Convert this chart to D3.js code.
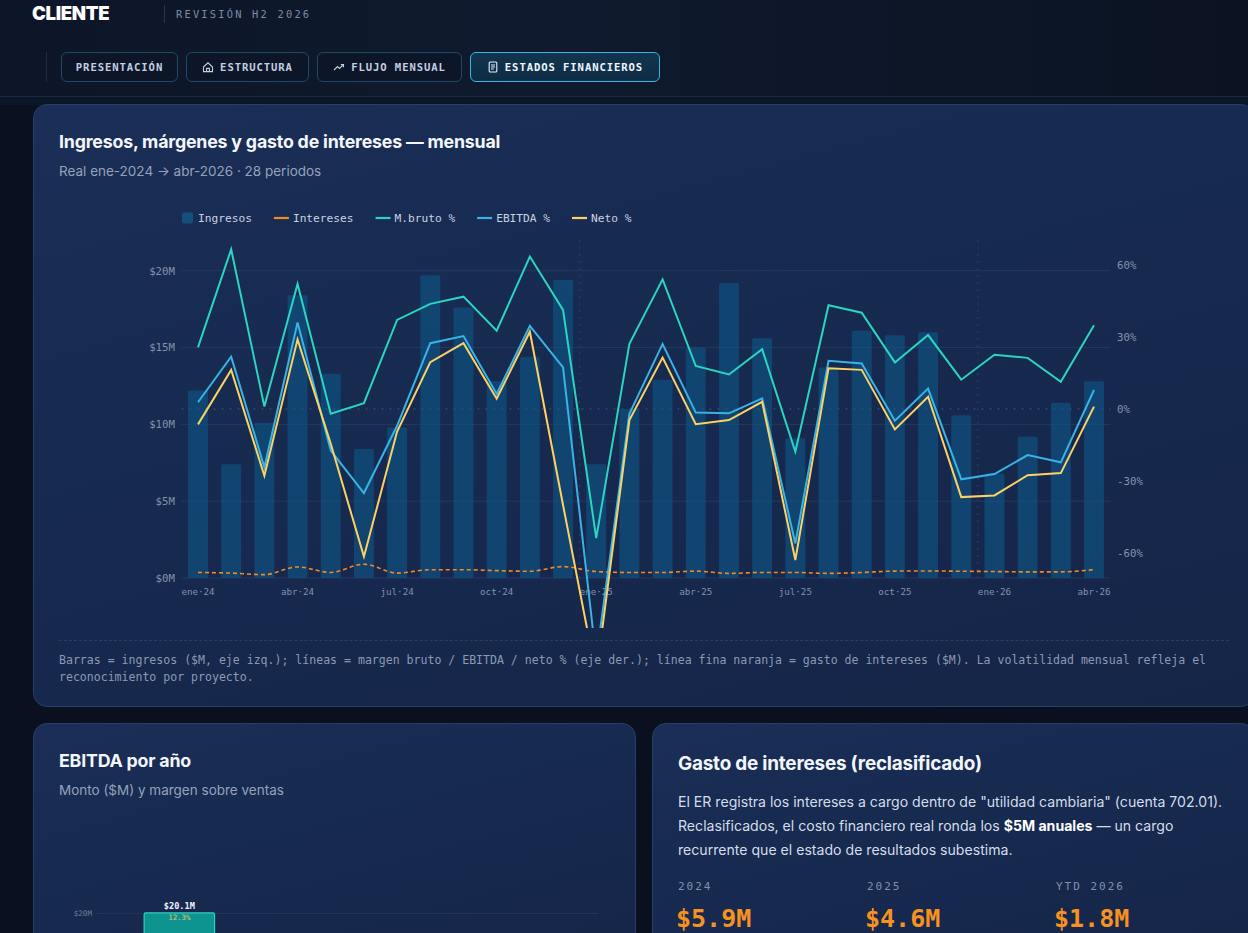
<!DOCTYPE html>
<html lang="es">
<head>
<meta charset="utf-8">
<script src="https://cdn.jsdelivr.net/npm/d3@7"></script>
<style>
html,body{margin:0;padding:0;}
body{width:1248px;height:933px;overflow:hidden;background:#0a101f;position:relative;font-family:Inter,"Noto Sans",sans-serif;color:#eef2fb;}
.abs{position:absolute;white-space:nowrap;}
.mono{font-family:"DejaVu Sans Mono","Liberation Mono",monospace;}
.header{position:absolute;left:0;top:0;width:1248px;height:96px;background:linear-gradient(90deg,#0d1628 0%,#101a2e 45%,#0b1322 100%);border-bottom:1px solid #1b2a44;}
.strip{position:absolute;left:0;top:97px;width:1248px;height:8px;background:#0b1626;}
.card{position:absolute;border:1px solid #27406a;border-radius:14px;background:linear-gradient(165deg,#1a2e57 0%,#172a50 40%,#152548 100%);box-sizing:border-box;}
.tab{position:absolute;top:52px;height:30px;box-sizing:border-box;border:1px solid #1e4a68;border-radius:6px;background:#0c1628;
  font-family:"DejaVu Sans Mono","Liberation Mono",monospace;font-size:10.6px;letter-spacing:0.9px;color:#c3cee0;font-weight:bold;
  display:flex;align-items:center;justify-content:center;gap:6px;}
.tab.on{border-color:#3ab4e0;background:linear-gradient(180deg,#12344f,#0f2c46);color:#eef6ff;}
.tab svg{width:12px;height:12px;}
.title{font-weight:700;font-size:17.8px;line-height:18px;color:#f3f6fc;letter-spacing:-0.2px;}
.sub{font-size:13.5px;line-height:14px;color:#95a2bc;}
</style>
</head>
<body>
<div class="header"></div>
<div class="strip"></div>

<div class="abs" style="left:32px;top:4px;font-size:18.5px;line-height:18px;font-weight:900;letter-spacing:-0.3px;color:#ffffff;">CLIENTE</div>
<div class="abs" style="left:164px;top:5px;width:1px;height:18px;background:#2a3650;"></div>
<div class="abs mono" style="left:176px;top:8px;font-size:10.4px;line-height:12px;letter-spacing:2.2px;color:#7f8ba3;">REVISIÓN H2 2026</div>

<div class="abs" style="left:46px;top:52px;width:1px;height:30px;background:#1f2c44;"></div>
<div class="tab" style="left:61px;width:117px;">PRESENTACIÓN</div>
<div class="tab" style="left:186px;width:123px;"><svg viewBox="0 0 12 12" fill="none" stroke="#c3cee0" stroke-width="1.1"><path d="M1.5 6 L6 1.8 L10.5 6 V10.6 H1.5 Z"/><path d="M4.6 10.6 V7.4 H7.4 V10.6"/></svg>ESTRUCTURA</div>
<div class="tab" style="left:317px;width:145px;"><svg viewBox="0 0 12 12" fill="none" stroke="#c3cee0" stroke-width="1.1"><path d="M1 9 L4.5 5.5 L6.5 7.5 L10.5 3.5"/><path d="M7.8 3.5 H10.5 V6.2"/></svg>FLUJO MENSUAL</div>
<div class="tab on" style="left:470px;width:190px;"><svg viewBox="0 0 12 12" fill="none" stroke="#e6f0ff" stroke-width="1.1"><rect x="2.2" y="1" width="7.6" height="10" rx="1"/><path d="M4 4 H8 M4 6 H8 M4 8 H6.8"/></svg>ESTADOS FINANCIEROS</div>

<!-- main card -->
<div class="card" style="left:33px;top:104px;width:1222px;height:603px;"></div>
<div class="abs title" style="left:59px;top:133px;">Ingresos, márgenes y gasto de intereses — mensual</div>
<div class="abs sub" style="left:59px;top:164px;">Real ene-2024 → abr-2026 · 28 periodos</div>
<div class="abs" style="left:59px;top:640px;width:1170px;border-top:1px dashed #2b3f63;"></div>
<div class="abs mono" style="left:59px;top:652px;font-size:11.55px;line-height:17px;color:#8c99b2;">Barras = ingresos ($M, eje izq.); líneas = margen bruto / EBITDA / neto % (eje der.); línea fina naranja = gasto de intereses ($M). La volatilidad mensual refleja el<br>reconocimiento por proyecto.</div>

<!-- bottom cards -->
<div class="card" style="left:33px;top:723px;width:603px;height:260px;"></div>
<div class="abs title" style="left:59px;top:752px;">EBITDA por año</div>
<div class="abs sub" style="left:59px;top:783px;">Monto ($M) y margen sobre ventas</div>

<div class="card" style="left:652px;top:723px;width:603px;height:260px;"></div>
<div class="abs title" style="left:678px;top:754px;font-size:18.9px;line-height:20px;">Gasto de intereses (reclasificado)</div>
<div class="abs" style="left:678px;top:790px;font-size:14.1px;line-height:24px;color:#d5dcea;">El ER registra los intereses a cargo dentro de "utilidad cambiaria" (cuenta 702.01).<br>Reclasificados, el costo financiero real ronda los <b style="color:#ffffff">$5M anuales</b> — un cargo<br>recurrente que el estado de resultados subestima.</div>
<div id="kpis"></div>

<svg id="main" class="abs" style="left:59px;top:196px;" width="1170" height="432"></svg>
<svg id="mini" class="abs" style="left:0px;top:0px;pointer-events:none;" width="1248" height="933"></svg>

<script>
// periodos mensuales
const periodos = ["ene·24","feb·24","mar·24","abr·24","may·24","jun·24","jul·24","ago·24","sep·24","oct·24","nov·24","dic·24",
  "ene·25","feb·25","mar·25","abr·25","may·25","jun·25","jul·25","ago·25","sep·25","oct·25","nov·25","dic·25",
  "ene·26","feb·26","mar·26","abr·26"];
const anios = ["2024","2024","2024","2024","2024","2024","2024","2024","2024","2024","2024","2024",
  "2025","2025","2025","2025","2025","2025","2025","2025","2025","2025","2025","2025",
  "YTD 2026","YTD 2026","YTD 2026","YTD 2026"];

// $M
const ingresos = [12.2,7.4,10.1,18.4,13.3,8.4,9.8,19.7,17.6,12.8,14.4,19.4,
  7.4,11.0,12.9,15.0,19.2,15.6,9.1,13.7,16.1,15.8,16.0,10.6,
  6.8,9.2,11.4,12.8];
const intereses = [0.36,0.32,0.22,0.72,0.36,0.90,0.32,0.54,0.54,0.48,0.44,0.74,
  0.42,0.36,0.36,0.45,0.30,0.36,0.36,0.30,0.36,0.45,0.46,0.44,
  0.42,0.40,0.40,0.55];
// %
const margenBruto = [25.7,66.5,1.0,52.1,-2.0,2.4,37.1,43.8,46.8,32.6,63.5,41.3,
  -53.8,27.2,54.0,17.9,14.4,24.9,-17.8,43.2,40.1,19.4,30.8,12.2,
  22.6,21.3,11.3,34.9];
const margenEbitda = [2.8,21.8,-24.3,36.0,-17.3,-35.0,-7.0,27.4,30.4,6.3,34.6,17.3,
  -104,-2.0,27.1,-1.5,-1.8,4.4,-56.0,20.1,19.0,-4.9,8.5,-29.3,
  -27.1,-19.2,-22.2,7.9];
const margenNeto = [-6.4,16.3,-27.8,29.0,-14.5,-61.5,-9.4,19.5,27.4,4.3,32.2,-40.0,
  -111,-4.6,21.4,-6.3,-4.6,3.0,-62.9,17.0,16.3,-8.5,5.1,-36.7,
  -36.0,-27.6,-26.7,1.0];

const ticksIzq = [0,5,10,15,20];
const ticksDer = [-60,-30,0,30,60];
const ticksMes = ["ene·24","abr·24","jul·24","oct·24","ene·25","abr·25","jul·25","oct·25","ene·26","abr·26"];
const cortesAnio = ["ene·25","ene·26"];
const aniosResumen = ["2024","2025","YTD 2026"];

const C = {bar:"#0e5a8a", bruto:"#2bd5bf", ebitda:"#39b3e6", neto:"#fcd264", int:"#f48b22",
  grid:"#26395e", axis:"#8391ad"};
const MONO = "'DejaVu Sans Mono','Liberation Mono',monospace";

const svg = d3.select("#main");
const L = 122.4, R = 1051.6, T = 44, B = 382;

const x = d3.scaleBand().domain(periodos).range([L, R]).paddingInner(0.4).paddingOuter(0.2);
const yL = d3.scaleLinear().domain([0, 22]).range([B, T]);
const yR = d3.scaleLinear().domain([-70.4, 70.4]).range([B, T]);
const cx = d => x(d) + x.bandwidth() / 2;

// gridlines
svg.append("g").selectAll("line").data(ticksIzq).join("line")
  .attr("x1", L).attr("x2", R).attr("y1", d => yL(d)).attr("y2", d => yL(d))
  .attr("stroke", C.grid).attr("stroke-width", 1);

// bars
svg.append("g").selectAll("rect").data(ingresos).join("rect")
  .attr("x", (d, i) => x(periodos[i]))
  .attr("y", d => yL(d))
  .attr("width", x.bandwidth())
  .attr("height", d => B - yL(d))
  .attr("rx", 1.5)
  .attr("fill", C.bar).attr("fill-opacity", 0.58);

// 0% reference + year dividers
svg.append("line").attr("x1", L).attr("x2", R).attr("y1", yR(0)).attr("y2", yR(0))
  .attr("stroke", "#405580").attr("stroke-dasharray", "2,6");
svg.append("g").selectAll("line").data(cortesAnio).join("line")
  .attr("x1", d => x(d) - x.step() * x.paddingInner() / 2)
  .attr("x2", d => x(d) - x.step() * x.paddingInner() / 2)
  .attr("y1", T).attr("y2", B)
  .attr("stroke", "#2e4268").attr("stroke-dasharray", "2,5");

// axes
const fmtAxis = g => {
  g.select(".domain").remove();
  g.selectAll("text").attr("fill", C.axis).style("font-family", MONO);
};
svg.append("g").attr("transform", `translate(${L},0)`)
  .call(d3.axisLeft(yL).tickValues(ticksIzq).tickFormat(d => "$" + d + "M").tickSize(0).tickPadding(6.5))
  .call(fmtAxis).selectAll("text").style("font-size", "10.7px");
svg.append("g").attr("transform", `translate(${R},0)`)
  .call(d3.axisRight(yR).tickValues(ticksDer).tickFormat(d => d + "%").tickSize(0).tickPadding(6.5))
  .call(fmtAxis).selectAll("text").style("font-size", "10.7px");
svg.append("g").attr("transform", `translate(0,${B})`)
  .call(d3.axisBottom(x).tickValues(ticksMes).tickSize(0).tickPadding(10))
  .call(fmtAxis).selectAll("text").style("font-size", "9.2px");

// lines
const lineL = d3.line().x((d, i) => cx(periodos[i])).y(d => yL(d)).curve(d3.curveMonotoneX);
const lineR = d3.line().x((d, i) => cx(periodos[i])).y(d => yR(d));

svg.append("path").datum(intereses).attr("d", lineL).attr("fill", "none")
  .attr("stroke", C.int).attr("stroke-width", 1.6).attr("stroke-dasharray", "4,3");
[[margenBruto, C.bruto], [margenEbitda, C.ebitda], [margenNeto, C.neto]].forEach(([s, c]) => {
  svg.append("path").datum(s).attr("d", lineR).attr("fill", "none")
    .attr("stroke", c).attr("stroke-width", 2).attr("stroke-linejoin", "miter");
});

// legend
const legend = [
  {name: "Ingresos", color: C.bar, type: "box"},
  {name: "Intereses", color: C.int, type: "line"},
  {name: "M.bruto %", color: C.bruto, type: "line"},
  {name: "EBITDA %", color: C.ebitda, type: "line"},
  {name: "Neto %", color: C.neto, type: "line"}
];
let lx = 123;
const lg = svg.append("g").attr("transform", "translate(0,22)");
legend.forEach(d => {
  if (d.type === "box") {
    lg.append("rect").attr("x", lx).attr("y", -5.5).attr("width", 11).attr("height", 11).attr("rx", 2)
      .attr("fill", "#13507e");
    lx += 16;
  } else {
    lg.append("line").attr("x1", lx).attr("x2", lx + 15).attr("y1", 0).attr("y2", 0)
      .attr("stroke", d.color).attr("stroke-width", 2.2);
    lx += 19;
  }
  const t = lg.append("text").attr("x", lx).attr("y", 0).attr("dy", "0.35em")
    .attr("fill", "#c9d2e3").style("font-family", MONO).style("font-size", "11.2px").text(d.name);
  lx += t.node().getComputedTextLength() + 22;
});

// ---- EBITDA por año (mini chart) ----
const ebitdaAnual = aniosResumen.map(a => {
  const idx = anios.map((v, i) => v === a ? i : -1).filter(i => i >= 0);
  const venta = d3.sum(idx, i => ingresos[i]);
  const monto = d3.sum(idx, i => ingresos[i] * margenEbitda[i] / 100);
  return {anio: a, monto: monto, margen: monto / venta * 100};
});
const mini = d3.select("#mini");
const mx = d3.scaleBand().domain(aniosResumen).range([95.5, 598.6]).paddingInner(0.58).paddingOuter(0.29);
const my = d3.scaleLinear().domain([-10, 22]).range([1085, 902]);
mini.append("g").selectAll("line").data([20]).join("line")
  .attr("x1", 95.5).attr("x2", 598.6).attr("y1", d => my(d)).attr("y2", d => my(d))
  .attr("stroke", "#22365a");
mini.append("g").selectAll("text").data([20]).join("text")
  .attr("x", 92).attr("y", d => my(d)).attr("dy", "0.35em").attr("text-anchor", "end")
  .attr("fill", "#6f7e9a").style("font-family", MONO).style("font-size", "7.6px").text(d => "$" + d + "M");
mini.append("g").selectAll("rect").data(ebitdaAnual.filter(d => d.monto > 0)).join("rect")
  .attr("x", d => mx(d.anio)).attr("y", d => my(d.monto))
  .attr("width", mx.bandwidth()).attr("height", d => my(0) - my(d.monto))
  .attr("fill", "#0d9490").attr("stroke", "#2dd4bf").attr("stroke-width", 1.2).attr("rx", 1.5);
ebitdaAnual.filter(d => d.monto > 0).forEach(d => {
  mini.append("text").attr("x", mx(d.anio) + mx.bandwidth() / 2).attr("y", my(d.monto) - 7).attr("dy", "0.35em")
    .attr("text-anchor", "middle").attr("fill", "#eef2fb").style("font-family", MONO)
    .style("font-size", "8.6px").style("font-weight", "bold").text("$" + d3.format(".1f")(d.monto) + "M");
  mini.append("text").attr("x", mx(d.anio) + mx.bandwidth() / 2).attr("y", my(d.monto) + 4).attr("dy", "0.35em")
    .attr("text-anchor", "middle").attr("fill", "#e9c45c").style("font-family", MONO)
    .style("font-size", "7.4px").text(d3.format(".1f")(d.margen) + "%");
});

// ---- KPIs de intereses ----
const kpi = d3.select("#kpis").selectAll("div.k").data(aniosResumen.map(a => ({
  anio: a,
  total: d3.sum(intereses.filter((v, i) => anios[i] === a))
}))).join("div").attr("class", "k");
kpi.append("div").attr("class", "abs mono")
  .style("left", (d, i) => (678 + i * 189) + "px").style("top", "881px")
  .style("font-size", "11px").style("line-height", "12px").style("letter-spacing", "2px").style("color", "#8391ab")
  .text(d => d.anio);
kpi.append("div").attr("class", "abs mono")
  .style("left", (d, i) => (676 + i * 189) + "px").style("top", "906px")
  .style("font-size", "25px").style("line-height", "26px").style("font-weight", "bold").style("color", "#f7911f")
  .text(d => "$" + d3.format(".1f")(d.total) + "M");
</script>
</body>
</html>
